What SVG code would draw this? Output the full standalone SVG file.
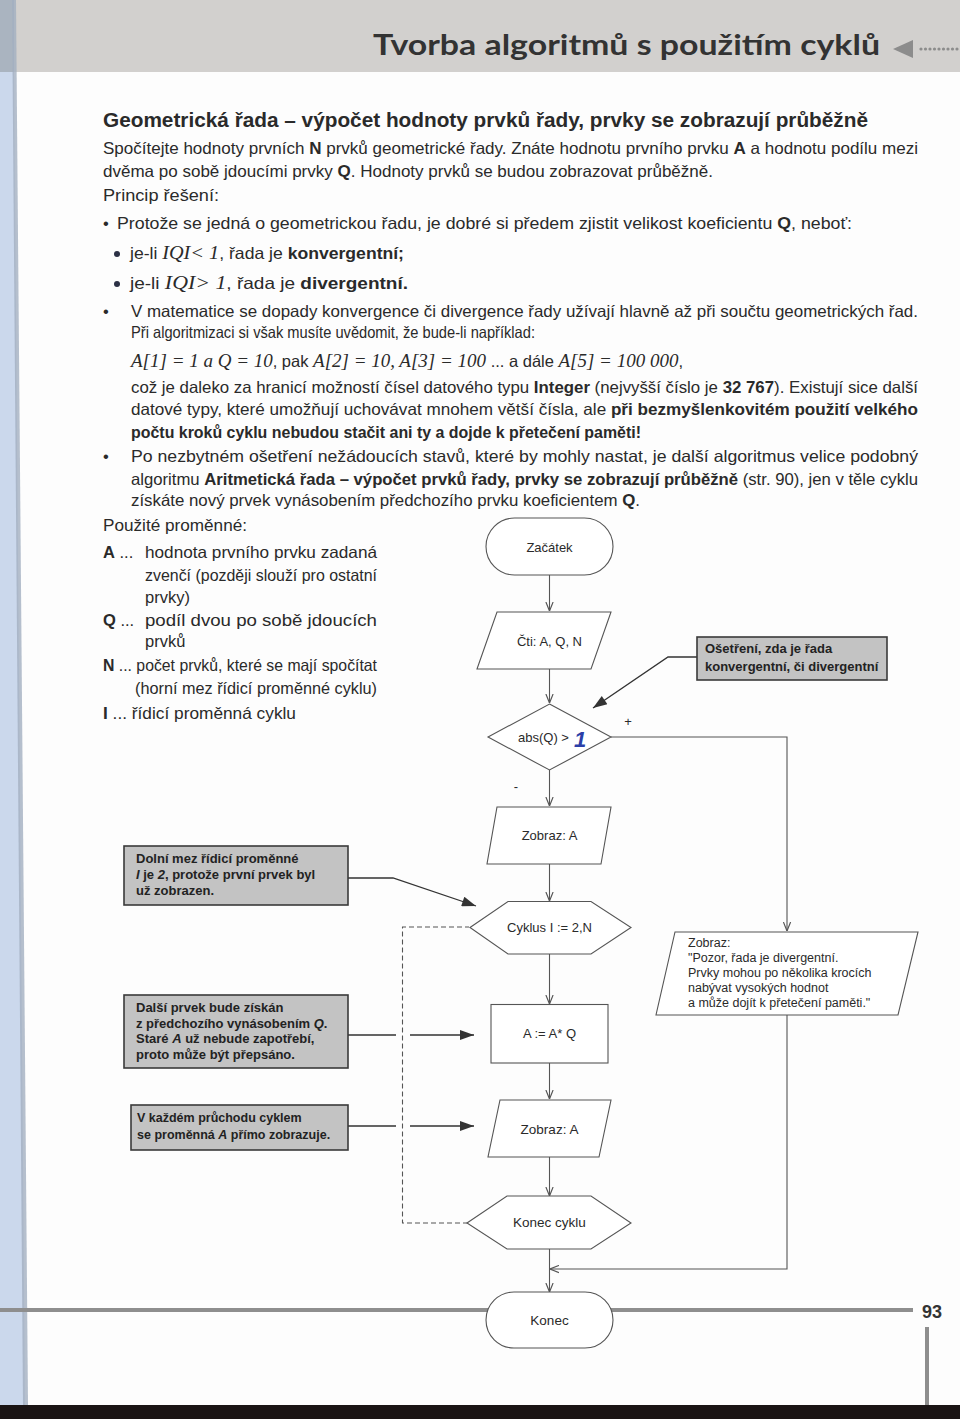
<svg xmlns="http://www.w3.org/2000/svg" width="960" height="1419" viewBox="0 0 960 1419">
<defs>
<style>
.t{font-family:"Liberation Sans Narrow","Liberation Sans",Arial,sans-serif;font-size:16.5px;fill:#2a2a2a}
.v{font-family:"Liberation Sans",Arial,sans-serif;font-size:16.5px;fill:#2a2a2a}
.b{font-weight:bold}
.m{font-family:"Liberation Serif","Times New Roman",serif;font-style:italic;font-size:19px}
.f{font-family:"Liberation Sans",Arial,sans-serif;font-size:13px;fill:#2a2a2a}
.fn{font-family:"Liberation Sans Narrow","Liberation Sans",Arial,sans-serif;font-size:13.5px;fill:#2a2a2a}
.c{font-family:"Liberation Sans",Arial,sans-serif;font-weight:bold;fill:#222}
.shape{fill:#ffffff;stroke:#555;stroke-width:1.1}
.box{fill:#c3c3c3;stroke:#3a3a3a;stroke-width:1.6}
.ln{fill:none;stroke:#555;stroke-width:1.1}
.cl{fill:none;stroke:#333;stroke-width:1.3}
.ds{fill:none;stroke:#555;stroke-width:1.1;stroke-dasharray:5,3}
</style>
<marker id="ah" viewBox="0 0 10 10" refX="10" refY="5" markerWidth="9" markerHeight="9" orient="auto" markerUnits="userSpaceOnUse">
<path d="M0,1 L10,5 L0,9" fill="none" stroke="#555" stroke-width="1.3"/>
</marker>
<marker id="fa" viewBox="0 0 14 10" refX="14" refY="5" markerWidth="16" markerHeight="10" orient="auto" markerUnits="userSpaceOnUse">
<path d="M0,0 L14,5 L0,10 Z" fill="#333"/>
</marker>
</defs>

<rect x="0" y="0" width="960" height="1419" fill="#fdfdfd"/>
<g id="header">
<rect x="0" y="0" width="960" height="72" fill="#d2d0ce"/>
<rect x="0" y="0" width="14" height="72" fill="#aab4c0"/>
<text x="880" y="55" text-anchor="end" textLength="507" lengthAdjust="spacingAndGlyphs" font-family="Lato,'Noto Sans',sans-serif" font-weight="bold" font-size="29" fill="#333">Tvorba algoritmů s použitím cyklů</text>
<polygon points="893,49 913,40 913,58" fill="#8c8c8c"/>
<g fill="#8c8c8c">
<circle cx="921" cy="49" r="1.6"/><circle cx="925.5" cy="49" r="1.6"/><circle cx="930" cy="49" r="1.6"/><circle cx="934.5" cy="49" r="1.6"/><circle cx="939" cy="49" r="1.6"/><circle cx="943.5" cy="49" r="1.6"/><circle cx="948" cy="49" r="1.6"/><circle cx="952.5" cy="49" r="1.6"/><circle cx="957" cy="49" r="1.6"/>
</g>
</g>
<g id="page-edge">
<polygon points="0,72 14,72 25,1405 0,1405" fill="#cbd8ec"/>
<polygon points="12,0 16,0 28,1405 23,1405" fill="#a3afc0" opacity="0.8"/>
<rect x="0" y="1308" width="913" height="4" fill="#8e8e8e"/>
<rect x="925" y="1327" width="4" height="81" fill="#8e8e8e"/>
<text x="922" y="1318" font-family="'Liberation Sans Narrow','Liberation Sans',sans-serif" font-size="18" font-weight="bold" fill="#333">93</text>
<rect x="0" y="1405" width="960" height="14" fill="#1a1414"/>
</g>

<g id="text-body">
<text x="103" y="127" class="t b" style="font-size:20px" textLength="765" lengthAdjust="spacingAndGlyphs">Geometrická řada – výpočet hodnoty prvků řady, prvky se zobrazují průběžně</text>
<text x="103" y="154" class="t" textLength="815" lengthAdjust="spacingAndGlyphs">Spočítejte hodnoty prvních <tspan class="b">N</tspan> prvků geometrické řady. Znáte hodnotu prvního prvku <tspan class="b">A</tspan> a hodnotu podílu mezi</text>
<text x="103" y="177" class="t" textLength="610" lengthAdjust="spacingAndGlyphs">dvěma po sobě jdoucími prvky <tspan class="b">Q</tspan>. Hodnoty prvků se budou zobrazovat průběžně.</text>
<text x="103" y="201" class="t" textLength="116" lengthAdjust="spacingAndGlyphs">Princip řešení:</text>
<text x="103" y="229" class="t">•</text>
<text x="117" y="229" class="t" textLength="735" lengthAdjust="spacingAndGlyphs">Protože se jedná o geometrickou řadu, je dobré si předem zjistit velikost koeficientu <tspan class="b">Q</tspan>, neboť:</text>
<circle cx="117" cy="254" r="3" fill="#2b3045"/>
<text x="130" y="259" class="t" textLength="274" lengthAdjust="spacingAndGlyphs">je-li <tspan class="m">IQI&lt; 1</tspan>, řada je <tspan class="b">konvergentní;</tspan></text>
<circle cx="117" cy="284" r="3" fill="#2b3045"/>
<text x="130" y="289" class="t" textLength="278" lengthAdjust="spacingAndGlyphs">je-li <tspan class="m">IQI&gt; 1</tspan>, řada je <tspan class="b">divergentní.</tspan></text>
<text x="103" y="317" class="t">•</text>
<text x="131" y="317" class="t" textLength="787" lengthAdjust="spacingAndGlyphs">V matematice se dopady konvergence či divergence řady užívají hlavně až při součtu geometrických řad.</text>
<text x="131" y="338" class="t" textLength="404" lengthAdjust="spacingAndGlyphs">Při algoritmizaci si však musíte uvědomit, že bude-li například:</text>
<text x="131" y="367" class="t" textLength="552" lengthAdjust="spacingAndGlyphs"><tspan class="m">A[1] = 1 a  Q = 10</tspan>, pak <tspan class="m">A[2] = 10, A[3] = 100</tspan> ... a dále <tspan class="m">A[5] = 100 000</tspan>,</text>
<text x="131" y="393" class="t" textLength="787" lengthAdjust="spacingAndGlyphs">což je daleko za hranicí možností čísel datového typu <tspan class="b">Integer</tspan> (nejvyšší číslo je <tspan class="b">32 767</tspan>). Existují sice další</text>
<text x="131" y="415" class="t" textLength="787" lengthAdjust="spacingAndGlyphs">datové typy, které umožňují uchovávat mnohem větší čísla, ale <tspan class="b">při bezmyšlenkovitém použití velkého</tspan></text>
<text x="131" y="438" class="t b" textLength="510" lengthAdjust="spacingAndGlyphs">počtu kroků cyklu nebudou stačit ani ty a dojde k přetečení paměti!</text>
<text x="103" y="462" class="t">•</text>
<text x="131" y="462" class="t" textLength="787" lengthAdjust="spacingAndGlyphs">Po nezbytném ošetření nežádoucích stavů, které by mohly nastat, je další algoritmus velice podobný</text>
<text x="131" y="485" class="t" textLength="787" lengthAdjust="spacingAndGlyphs">algoritmu <tspan class="b">Aritmetická řada – výpočet prvků řady, prvky se zobrazují průběžně</tspan> (str. 90), jen v těle cyklu</text>
<text x="131" y="506" class="t" textLength="509" lengthAdjust="spacingAndGlyphs">získáte nový prvek vynásobením předchozího prvku koeficientem <tspan class="b">Q</tspan>.</text>
</g>

<g id="variables">
<text x="103" y="531" class="v" textLength="144" lengthAdjust="spacingAndGlyphs">Použité proměnné:</text>
<text x="103" y="558" class="v"><tspan class="b">A</tspan> ...</text>
<text x="145" y="558" class="v" textLength="232" lengthAdjust="spacingAndGlyphs">hodnota prvního prvku zadaná</text>
<text x="145" y="581" class="v" textLength="232" lengthAdjust="spacingAndGlyphs">zvenčí (později slouží pro ostatní</text>
<text x="145" y="603" class="v">prvky)</text>
<text x="103" y="626" class="v"><tspan class="b">Q</tspan> ...</text>
<text x="145" y="626" class="v" textLength="232" lengthAdjust="spacingAndGlyphs">podíl dvou po sobě jdoucích</text>
<text x="145" y="647" class="v">prvků</text>
<text x="103" y="671" class="v" textLength="274" lengthAdjust="spacingAndGlyphs"><tspan class="b">N</tspan> ... počet prvků, které se mají spočítat</text>
<text x="135" y="694" class="v" textLength="242" lengthAdjust="spacingAndGlyphs">(horní mez řídicí proměnné cyklu)</text>
<text x="103" y="719" class="v" textLength="193" lengthAdjust="spacingAndGlyphs"><tspan class="b">I</tspan> ...  řídicí proměnná cyklu</text>
</g>

<g id="connectors">
<path class="ln" d="M549.5,575 V611" marker-end="url(#ah)"/>
<path class="ln" d="M549.5,669 V703" marker-end="url(#ah)"/>
<path class="ln" d="M549.5,770 V806" marker-end="url(#ah)"/>
<path class="ln" d="M549.5,864 V901" marker-end="url(#ah)"/>
<path class="ln" d="M549.5,954 V1004" marker-end="url(#ah)"/>
<path class="ln" d="M549.5,1063 V1099" marker-end="url(#ah)"/>
<path class="ln" d="M549.5,1157 V1196" marker-end="url(#ah)"/>
<path class="ln" d="M549.5,1249 V1292" marker-end="url(#ah)"/>
<path class="ln" d="M611,737 H787 V931" marker-end="url(#ah)"/>
<path class="ln" d="M787,1015 V1269 H550" marker-end="url(#ah)"/>
<path class="ds" d="M468,1223 H402.5 V927 H469"/>
<path class="cl" d="M697,657 H668 L593,708" marker-end="url(#fa)"/>
<path class="cl" d="M348,878 H393 L476,906" marker-end="url(#fa)"/>
<path class="cl" d="M348,1035 H396 M410,1035 H474" marker-end="url(#fa)"/>
<path class="cl" d="M348,1126 H396 M410,1126 H474" marker-end="url(#fa)"/>
<text x="628" y="726" class="f" text-anchor="middle">+</text>
<text x="516" y="791" class="f" text-anchor="middle">-</text>
</g>

<g id="n-start">
<rect x="486" y="518" width="127" height="57" rx="28.5" class="shape"/>
<text x="549.5" y="552" class="f" text-anchor="middle">Začátek</text>
</g>
<g id="n-read">
<polygon points="497,612 611,612 591,669 477,669" class="shape"/>
<text x="549.5" y="646" class="f" text-anchor="middle">Čti: A, Q, N</text>
</g>
<g id="n-cond">
<polygon points="549.5,704 611,737 549.5,770 488,737" class="shape"/>
<text x="518" y="742" class="f">abs(Q) &gt;</text>
<text x="574" y="747" font-family="'Liberation Sans',sans-serif" font-size="22" font-weight="bold" font-style="italic" fill="#2c3fa8">1</text>
</g>
<g id="n-show1">
<polygon points="497,807 611,807 601,864 487,864" class="shape"/>
<text x="549.5" y="840" class="f" text-anchor="middle">Zobraz: A</text>
</g>
<g id="n-loop">
<polygon points="470,927.5 508,901.5 591,901.5 631,927.5 591,954 508,954" class="shape"/>
<text x="549.5" y="932" class="f" text-anchor="middle">Cyklus  I := 2,N</text>
</g>
<g id="n-calc">
<rect x="491" y="1004.5" width="117" height="58.5" class="shape"/>
<text x="549.5" y="1038" class="f" text-anchor="middle">A := A* Q</text>
</g>
<g id="n-show2">
<polygon points="500,1100 611,1100 599,1157 488,1157" class="shape"/>
<text x="549.5" y="1134" class="fn" text-anchor="middle">Zobraz: A</text>
</g>
<g id="n-endloop">
<polygon points="467,1223 507,1196 591,1196 631,1223 591,1249 507,1249" class="shape"/>
<text x="549.5" y="1227" class="fn" text-anchor="middle">Konec cyklu</text>
</g>
<g id="n-end">
<rect x="486" y="1292" width="127" height="56" rx="28" class="shape"/>
<text x="549.5" y="1325" class="fn" text-anchor="middle">Konec</text>
</g>
<g id="n-warn">
<polygon points="675,932 918,932 898,1015 656,1015" class="shape"/>
<text class="f" style="font-size:12.5px">
<tspan x="688" y="947">Zobraz:</tspan>
<tspan x="688" y="962">"Pozor, řada je divergentní.</tspan>
<tspan x="688" y="977">Prvky mohou po několika krocích</tspan>
<tspan x="688" y="992">nabývat vysokých hodnot</tspan>
<tspan x="688" y="1007">a může dojít k přetečení paměti."</tspan>
</text>
</g>

<g id="note-check">
<rect x="697" y="637" width="190" height="43" class="box"/>
<text class="c" style="font-size:13px">
<tspan x="705" y="653">Ošetření, zda je řada</tspan>
<tspan x="705" y="671">konvergentní, či divergentní</tspan>
</text>
</g>
<g id="note-lower">
<rect x="124" y="846" width="224" height="59" class="box"/>
<text class="c" style="font-size:13px">
<tspan x="136" y="863">Dolní mez řídicí proměnné</tspan>
<tspan x="136" y="879"><tspan font-style="italic">I</tspan> je <tspan font-style="italic">2</tspan>, protože první prvek byl</tspan>
<tspan x="136" y="895">už zobrazen.</tspan>
</text>
</g>
<g id="note-next">
<rect x="124" y="995" width="224" height="73" class="box"/>
<text class="c" style="font-size:13px">
<tspan x="136" y="1012">Další prvek bude získán</tspan>
<tspan x="136" y="1028">z předchozího vynásobením <tspan font-style="italic">Q</tspan>.</tspan>
<tspan x="136" y="1043">Staré <tspan font-style="italic">A</tspan> už nebude zapotřebí,</tspan>
<tspan x="136" y="1059">proto může být přepsáno.</tspan>
</text>
</g>
<g id="note-each">
<rect x="131" y="1105" width="217" height="45" class="box"/>
<text class="c" style="font-size:12.5px">
<tspan x="137" y="1122">V každém průchodu cyklem</tspan>
<tspan x="137" y="1139">se proměnná <tspan font-style="italic">A</tspan> přímo zobrazuje.</tspan>
</text>
</g>
</svg>
